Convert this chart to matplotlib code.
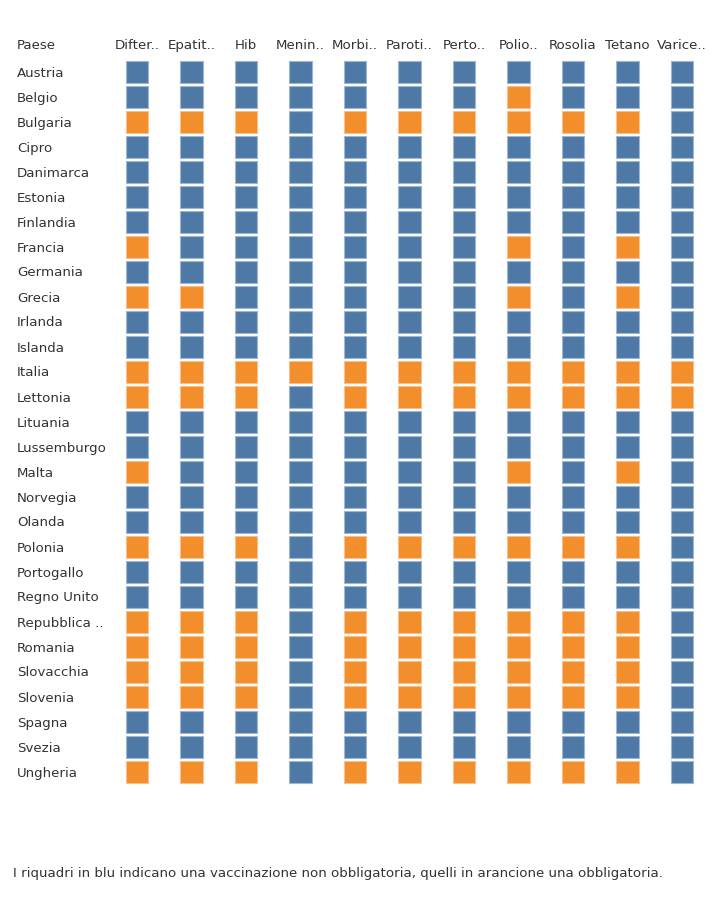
import numpy as np
import matplotlib
matplotlib.use('Agg')
import matplotlib.pyplot as plt
import matplotlib.transforms as mtransforms

paesi = ['Austria', 'Belgio', 'Bulgaria', 'Cipro', 'Danimarca', 'Estonia',
         'Finlandia', 'Francia', 'Germania', 'Grecia', 'Irlanda', 'Islanda',
         'Italia', 'Lettonia', 'Lituania', 'Lussemburgo', 'Malta', 'Norvegia',
         'Olanda', 'Polonia', 'Portogallo', 'Regno Unito', 'Repubblica ..',
         'Romania', 'Slovacchia', 'Slovenia', 'Spagna', 'Svezia', 'Ungheria']
vaccini = ['Difter..', 'Epatit..', 'Hib', 'Menin..', 'Morbi..', 'Paroti..',
           'Perto..', 'Polio..', 'Rosolia', 'Tetano', 'Varice..']

# 1 = obbligatoria (arancione), 0 = non obbligatoria (blu)
nessuna = [0, 0, 0, 0, 0, 0, 0, 0, 0, 0, 0]
quasi_tutte = [1, 1, 1, 0, 1, 1, 1, 1, 1, 1, 0]
obbligo = {
    'Austria': nessuna,
    'Belgio': [0, 0, 0, 0, 0, 0, 0, 1, 0, 0, 0],
    'Bulgaria': quasi_tutte,
    'Cipro': nessuna,
    'Danimarca': nessuna,
    'Estonia': nessuna,
    'Finlandia': nessuna,
    'Francia': [1, 0, 0, 0, 0, 0, 0, 1, 0, 1, 0],
    'Germania': nessuna,
    'Grecia': [1, 1, 0, 0, 0, 0, 0, 1, 0, 1, 0],
    'Irlanda': nessuna,
    'Islanda': nessuna,
    'Italia': [1, 1, 1, 1, 1, 1, 1, 1, 1, 1, 1],
    'Lettonia': [1, 1, 1, 0, 1, 1, 1, 1, 1, 1, 1],
    'Lituania': nessuna,
    'Lussemburgo': nessuna,
    'Malta': [1, 0, 0, 0, 0, 0, 0, 1, 0, 1, 0],
    'Norvegia': nessuna,
    'Olanda': nessuna,
    'Polonia': quasi_tutte,
    'Portogallo': nessuna,
    'Regno Unito': nessuna,
    'Repubblica ..': quasi_tutte,
    'Romania': quasi_tutte,
    'Slovacchia': quasi_tutte,
    'Slovenia': quasi_tutte,
    'Spagna': nessuna,
    'Svezia': nessuna,
    'Ungheria': quasi_tutte,
}

blu = '#4e79a7'
arancio = '#f28e2b'
testo = '#333333'

W, H = 724, 899
fig = plt.figure(figsize=(W / 100, H / 100), dpi=100)
plt.rcParams['font.family'] = ['DejaVu Sans']
fs = 9.6

# column centres 137 -> 682 px, rows 72 -> 772 px
dx = (682 - 137) / 10
dy = 25
left = 137 - dx / 2
right = 682 + dx / 2
top = 72 - dy / 2
bottom = 772 + dy / 2
ax = fig.add_axes([left / W, 1 - bottom / H, (right - left) / W, (bottom - top) / H])
ax.set_xlim(-0.5, len(vaccini) - 0.5)
ax.set_ylim(len(paesi) - 0.5, -0.5)
ax.axis('off')

mat = np.array([obbligo[p] for p in paesi])
yy, xx = np.nonzero(np.ones_like(mat))
cols = [arancio if mat[r, c] else blu for r, c in zip(yy, xx)]
edges = ['#f9c08a' if mat[r, c] else '#9fb6d0' for r, c in zip(yy, xx)]
ax.scatter(xx, yy, marker='s', s=255, c=cols, edgecolors=edges, linewidths=0.8)

for i, v in enumerate(vaccini):
    ax.text(i, -1.06, v, ha='center', va='center', fontsize=fs, color=testo)

trans = mtransforms.blended_transform_factory(fig.transFigure, ax.transData)
ax.text(17 / W, -1.06, 'Paese', transform=trans, ha='left', va='center',
        fontsize=fs, color=testo)
for j, p in enumerate(paesi):
    ax.text(17 / W, j + 0.04, p, transform=trans, ha='left', va='center',
            fontsize=fs, color=testo)

fig.text(13 / W, 1 - 874 / H,
         'I riquadri in blu indicano una vaccinazione non obbligatoria, quelli in arancione una obbligatoria.',
         ha='left', va='center', fontsize=fs, color=testo)

fig.savefig('out.png', dpi=100)
